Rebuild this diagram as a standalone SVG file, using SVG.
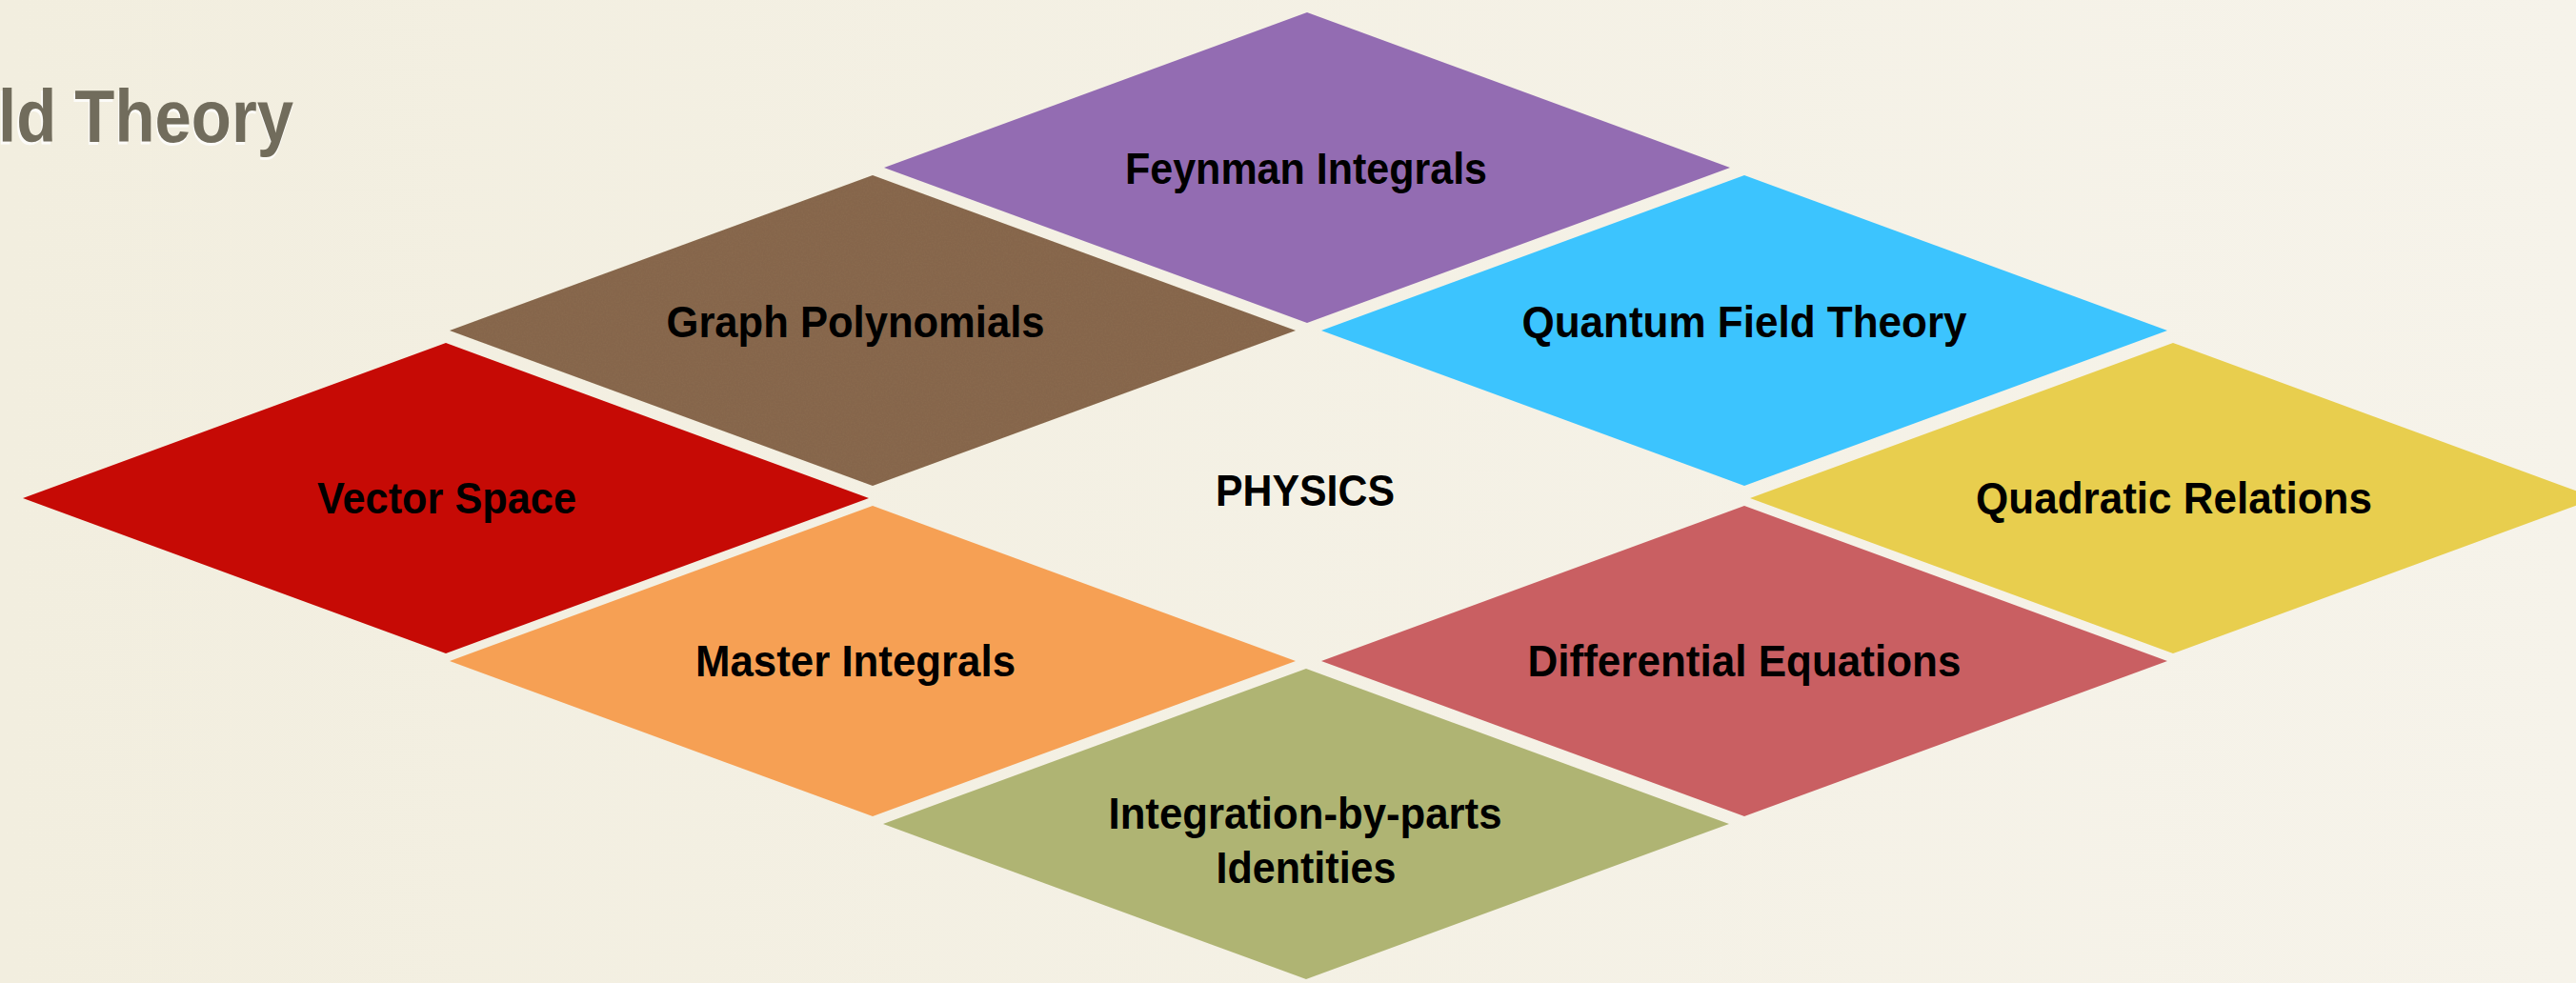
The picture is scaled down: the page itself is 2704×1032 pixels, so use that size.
<svg xmlns="http://www.w3.org/2000/svg" width="2704" height="1032" viewBox="0 0 2704 1032">
<defs>
<style>
.lbl{font-family:"Liberation Sans",Arial,sans-serif;font-weight:bold;font-size:46px;fill:#000;text-anchor:middle}
.title{font-family:"Liberation Sans",Arial,sans-serif;font-weight:bold;font-size:78px;fill:#716C5C}
.shadow{font-family:"Liberation Sans",Arial,sans-serif;font-weight:bold;font-size:78px;fill:#FFFFFF;opacity:0.8}
</style>
<linearGradient id="bg" x1="0" y1="0" x2="1" y2="0">
<stop offset="0" stop-color="#F2EEDF"/>
<stop offset="1" stop-color="#F6F3EA"/>
</linearGradient>
<filter id="paper" x="0" y="0" width="100%" height="100%">
<feTurbulence type="fractalNoise" baseFrequency="0.6" numOctaves="2" seed="3" result="n"/>
<feColorMatrix in="n" type="matrix" values="0 0 0 0 0  0 0 0 0 0  0 0 0 0 0  0 0 0 0.12 0" result="na"/>
<feComposite in="na" in2="SourceGraphic" operator="in" result="nm"/>
<feMerge><feMergeNode in="SourceGraphic"/><feMergeNode in="nm"/></feMerge>
</filter>
</defs>
<rect x="0" y="0" width="2704" height="1032" fill="url(#bg)"/>
<g id="title">
<text class="shadow" x="-4" y="152" textLength="312" lengthAdjust="spacingAndGlyphs">ld Theory</text>
<text class="title" x="-2" y="149" textLength="310" lengthAdjust="spacingAndGlyphs">ld Theory</text>
</g>
<g id="connectors"></g>
<g id="feynman-integrals">
<polygon points="1372,13 1816,176 1372,339 928,176" fill="#936CB2"/>
<text class="lbl" x="1371" y="193" textLength="380" lengthAdjust="spacingAndGlyphs">Feynman Integrals</text>
</g>
<g id="graph-polynomials">
<polygon points="916,184 1360,347 916,510 472,347" fill="#8B6B4F" filter="url(#paper)"/>
<text class="lbl" x="898" y="354" textLength="397" lengthAdjust="spacingAndGlyphs">Graph Polynomials</text>
</g>
<g id="quantum-field-theory">
<polygon points="1831,184 2275,347 1831,510 1387,347" fill="#3CC4FE"/>
<text class="lbl" x="1831" y="354" textLength="467" lengthAdjust="spacingAndGlyphs">Quantum Field Theory</text>
</g>
<g id="vector-space">
<polygon points="468,360 912,523 468,686 24,523" fill="#C60A05"/>
<text class="lbl" x="469" y="539" textLength="272" lengthAdjust="spacingAndGlyphs">Vector Space</text>
</g>
<g id="physics">
<text class="lbl" x="1370" y="531" textLength="188" lengthAdjust="spacingAndGlyphs">PHYSICS</text>
</g>
<g id="quadratic-relations">
<polygon points="2281,360 2725,523 2281,686 1837,523" fill="#E8CE4E"/>
<text class="lbl" x="2282" y="539" textLength="416" lengthAdjust="spacingAndGlyphs">Quadratic Relations</text>
</g>
<g id="master-integrals">
<polygon points="916,531 1360,694 916,857 472,694" fill="#F6A054"/>
<text class="lbl" x="898" y="710" textLength="336" lengthAdjust="spacingAndGlyphs">Master Integrals</text>
</g>
<g id="differential-equations">
<polygon points="1831,531 2275,694 1831,857 1387,694" fill="#C95F62"/>
<text class="lbl" x="1831" y="710" textLength="455" lengthAdjust="spacingAndGlyphs">Differential Equations</text>
</g>
<g id="ibp-identities">
<polygon points="1371,702 1815,865 1371,1028 927,865" fill="#AFB473"/>
<text class="lbl" x="1370" y="870" textLength="413" lengthAdjust="spacingAndGlyphs">Integration-by-parts</text>
<text class="lbl" x="1371" y="927" textLength="189" lengthAdjust="spacingAndGlyphs">Identities</text>
</g>
</svg>
